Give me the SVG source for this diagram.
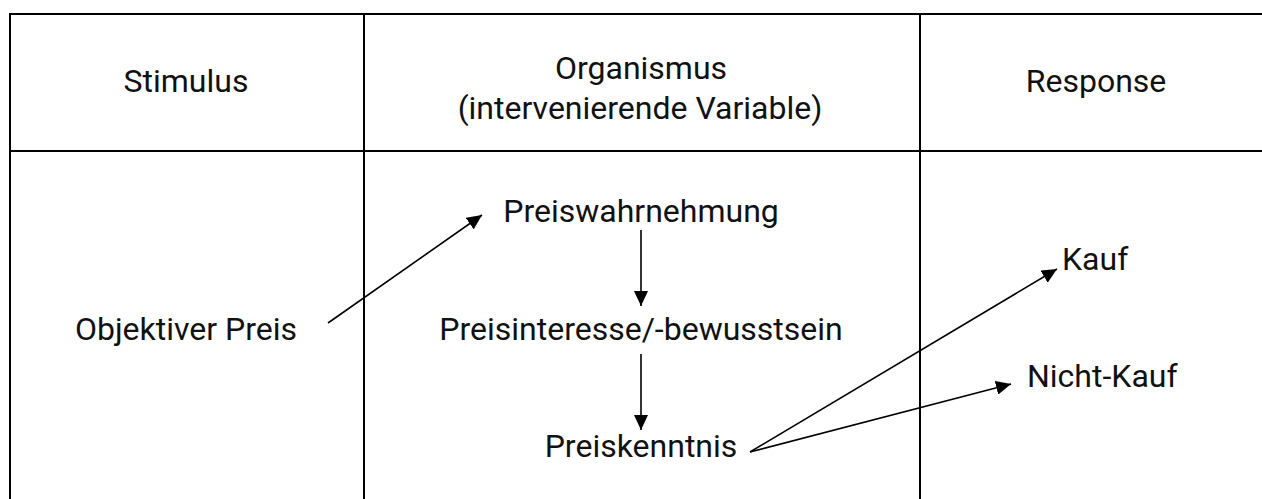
<svg xmlns="http://www.w3.org/2000/svg" width="1262" height="499" viewBox="0 0 1262 499">
  <style>
    .grid { stroke: #000; stroke-width: 2; fill: none; }
    .lbl { font-family: Roboto, "Liberation Sans", sans-serif; font-size: 32px; fill: #111; }
    .mid { text-anchor: middle; }
    .edge { stroke: #000; stroke-width: 1.6; fill: none; marker-end: url(#arrow); }
  </style>
  <defs>
    <marker id="arrow" markerUnits="userSpaceOnUse" markerWidth="15" markerHeight="14" refX="15" refY="7" orient="auto">
      <path d="M0,0 L15,7 L0,14 Z" fill="#000"/>
    </marker>
  </defs>

  <!-- S-O-R table frame -->
  <g id="table">
    <line class="grid" x1="10" y1="14" x2="1262" y2="14"/>
    <line class="grid" x1="10" y1="151" x2="1262" y2="151"/>
    <line class="grid" x1="10" y1="13" x2="10" y2="499"/>
    <line class="grid" x1="364" y1="13" x2="364" y2="499"/>
    <line class="grid" x1="920" y1="13" x2="920" y2="499"/>
  </g>

  <!-- column headers -->
  <g id="head-stimulus"><text class="lbl mid" x="186" y="92">Stimulus</text></g>
  <g id="head-organismus">
    <text class="lbl mid" x="641" y="79">Organismus</text>
    <text class="lbl mid" x="640" y="119">(intervenierende Variable)</text>
  </g>
  <g id="head-response"><text class="lbl mid" x="1096" y="92">Response</text></g>

  <!-- nodes -->
  <g id="objektiver-preis"><text class="lbl mid" x="186" y="340">Objektiver Preis</text></g>
  <g id="preiswahrnehmung"><text class="lbl mid" x="641" y="222">Preiswahrnehmung</text></g>
  <g id="preisinteresse"><text class="lbl mid" x="641" y="340">Preisinteresse/-bewusstsein</text></g>
  <g id="preiskenntnis"><text class="lbl mid" x="641" y="457">Preiskenntnis</text></g>
  <g id="kauf"><text class="lbl" x="1062" y="270">Kauf</text></g>
  <g id="nicht-kauf"><text class="lbl" x="1027" y="387">Nicht-Kauf</text></g>

  <!-- connectors -->
  <g id="connectors">
    <line class="edge" x1="328" y1="323" x2="482" y2="215"/>
    <line class="edge" x1="641" y1="230" x2="641" y2="306"/>
    <line class="edge" x1="641" y1="354" x2="641" y2="430"/>
    <line class="edge" x1="750" y1="452" x2="1057" y2="269"/>
    <line class="edge" x1="750" y1="452" x2="1011" y2="384"/>
  </g>
</svg>
